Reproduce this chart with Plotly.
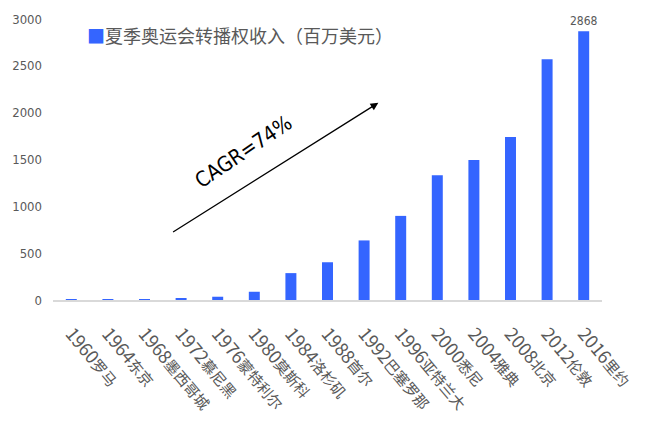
import plotly.graph_objects as go

# Summer Olympics broadcast revenue (USD millions)
years = ["1960", "1964", "1968", "1972", "1976", "1980", "1984", "1988",
         "1992", "1996", "2000", "2004", "2008", "2012", "2016"]
cities = ["罗马", "东京", "墨西哥城", "慕尼黑", "蒙特利尔", "莫斯科", "洛杉矶", "首尔",
          "巴塞罗那", "亚特兰大", "悉尼", "雅典", "北京", "伦敦", "里约"]
revenue = [1.2, 1.6, 9.8, 17.8, 34.9, 88, 287, 403, 636, 898, 1332, 1494, 1739, 2569, 2868]
y_ticks = [0, 500, 1000, 1500, 2000, 2500, 3000]
series_name = "夏季奥运会转播权收入（百万美元）"
cagr_text = "CAGR=74%"

narrow = "DejaVu Sans Condensed, Liberation Sans Narrow, sans-serif"
cjk = "Noto Sans CJK SC, sans-serif"
grey = "#595959"
blue = "#3465FF"

# year in larger digits, host city in smaller characters
tick_text = [f'{y}<span style="font-size:15px">{c}</span>' for y, c in zip(years, cities)]
labels = [""] * (len(revenue) - 1) + [str(revenue[-1])]

fig = go.Figure()
fig.add_trace(go.Bar(
    x=list(range(len(years))), y=revenue, name=series_name,
    marker=dict(color=blue, line=dict(width=0)),
    text=labels, textposition="outside", cliponaxis=False, constraintext="none",
    textfont=dict(family=narrow, size=12, color=grey),
    showlegend=False,
))

plot_w = 653 - 48 - 51
plot_h = 428 - 15 - 128

# series key drawn as a compact square + caption
fig.add_annotation(
    x=(80 - 48) / plot_w, y=(428 - 128 - 31) / plot_h, xref="paper", yref="paper",
    showarrow=False,
    text=f'<span style="color:{blue}">■</span>{series_name}',
    font=dict(family=cjk, size=18, color=grey),
    xanchor="left", yanchor="middle",
)

# growth arrow and its label
fig.add_annotation(
    x=8.39, y=2105, ax=2.74, ay=716, xref="x", yref="y", axref="x", ayref="y",
    showarrow=True, arrowhead=2, arrowsize=1.2, arrowwidth=1.3, arrowcolor="#000000",
    text="",
)
fig.add_annotation(
    x=4.7, y=1580, xref="x", yref="y", text=cagr_text, showarrow=False,
    textangle=-34, font=dict(family=narrow, size=21, color="#000000"),
)

fig.update_layout(
    width=653, height=428,
    margin=dict(l=48, r=51, t=15, b=128),
    paper_bgcolor="white", plot_bgcolor="white",
    bargap=0.7,
    xaxis=dict(
        tickmode="array", tickvals=list(range(len(years))), ticktext=tick_text,
        range=[-0.5, len(years) - 0.5],
        tickangle=50, tickfont=dict(family=cjk, size=18, color=grey),
        showline=True, linecolor="#d9d9d9", linewidth=2,
        showgrid=False, zeroline=False, ticks="", ticklabelstandoff=14,
    ),
    yaxis=dict(
        range=[0, 3000], tickvals=y_ticks,
        tickfont=dict(family=narrow, size=13, color=grey),
        showgrid=False, zeroline=False, showline=False,
        ticklabelstandoff=10,
    ),
)

fig.write_html("out.html")
